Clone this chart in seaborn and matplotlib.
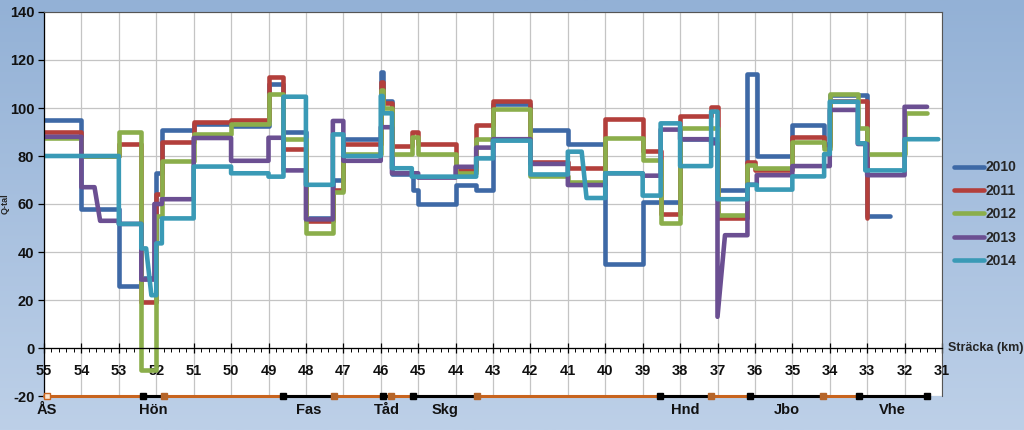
import numpy as np
import pandas as pd
import matplotlib
matplotlib.use("Agg")
import matplotlib.pyplot as plt
import seaborn as sns
from matplotlib.ticker import MultipleLocator
from matplotlib.colors import LinearSegmentedColormap

# %%
# Step segments per year: (km from, km to, Q-tal)
seg_2010 = [(55, 54, 95), (54, 53, 58), (53, 52.4, 26), (52.4, 52, 29), (52, 51.85, 73),
            (51.85, 51, 91), (51, 50, 93.5), (50, 49, 92.5), (49, 48.6, 110), (48.6, 48, 90),
            (48, 47.28, 54), (47.28, 47, 70), (47, 46, 87), (46, 45.95, 115), (45.95, 45.7, 103),
            (45.7, 45.15, 72.5), (45.15, 45, 66), (45, 44, 60), (44, 43.45, 68), (43.45, 43, 66),
            (43, 42, 101.5), (42, 41, 91), (41, 40, 85), (40, 39, 35), (39, 38, 61),
            (38, 37, 87), (37, 36.2, 66), (36.2, 35.95, 114), (35.95, 35, 80), (35, 34.15, 93),
            (34.15, 34, 85), (34, 33, 105.5), (33, 32.4, 55)]
seg_2011 = [(55, 54, 90), (54, 53, 80), (53, 52.4, 85), (52.4, 52, 19), (52, 51.85, 64),
            (51.85, 51, 86), (51, 50, 94), (50, 49, 95), (49, 48.6, 113), (48.6, 48, 83),
            (48, 47.28, 53), (47.28, 47, 66), (47, 46, 85), (46, 45.95, 111), (45.95, 45.7, 102),
            (45.7, 45.17, 84), (45.17, 45, 90), (45, 44, 85), (44, 43.45, 74), (43.45, 43, 93),
            (43, 42, 103), (42, 41, 77.5), (41, 40, 75), (40, 39, 95.5), (39, 38.52, 82),
            (38.52, 38, 56), (38, 37.17, 96.5), (37.17, 37, 100.5), (37, 36.2, 54), (36.2, 36, 77.6),
            (36, 35, 74), (35, 34.15, 88), (34.15, 34, 84), (34, 33, 103), (33, 33, 54)]
seg_2012 = [(55, 54, 87.5), (54, 53, 80), (53, 52.4, 90), (52.4, 52, -9), (52, 51.85, 55),
            (51.85, 51, 78), (51, 50, 89), (50, 49, 93.5), (49, 48.6, 106), (48.6, 48, 87),
            (48, 47.28, 48), (47.28, 47, 65), (47, 46, 81), (46, 45.95, 107.5), (45.95, 45.7, 100),
            (45.7, 45.17, 81), (45.17, 45, 88), (45, 44, 81), (44, 43.45, 73), (43.45, 43, 87),
            (43, 42, 99.5), (42, 41, 71.5), (41, 40, 69.3), (40, 39, 87.5), (39, 38.52, 78.3),
            (38.52, 38, 52), (38, 37, 91.7), (37, 36.2, 55.4), (36.2, 36, 76.3), (36, 35, 75),
            (35, 34.15, 86), (34.15, 34, 83), (34, 33.25, 106), (33.25, 33, 91.7), (33, 32, 80.8),
            (32, 31.4, 98)]
seg_2013 = [(55, 54, 88), (54, 53.65, 67), (53.5, 53, 53), (53, 52.4, 51.7), (52.4, 52.05, 28.5),
            (52.05, 51.85, 60), (51.85, 51, 62), (51, 50, 87.5), (50, 49, 78), (49, 48.6, 87.6),
            (48.6, 48, 74), (48, 47.28, 53.6), (47.28, 47, 94.6), (47, 46, 78), (46, 45.7, 92),
            (45.7, 45, 72.8), (45, 44, 71), (44, 43.45, 75.5), (43.45, 43, 83.5), (43, 42, 87),
            (42, 41, 76.7), (41, 40, 67.9), (40, 39, 72.8), (39, 38.52, 71.8), (38.52, 38, 91),
            (38, 37.17, 87), (37.17, 37, 85.3), (37, 37, 13), (36.8, 36.2, 47), (36.2, 35.95, 68),
            (35.95, 35, 72), (35, 34, 75.8), (34, 33.25, 99.2), (33.25, 33, 85), (33, 32, 72),
            (32, 31.4, 100.5)]
seg_2014 = [(55, 53, 80), (53, 52.4, 51.7), (52.4, 52.27, 41.5), (52.13, 52, 22), (52, 51.85, 43.6),
            (51.85, 51, 54), (51, 50, 75.6), (50, 49, 72.8), (49, 48.6, 71.4), (48.6, 48, 104.7),
            (48, 47.28, 68), (47.28, 47, 89), (47, 46, 80), (46, 45.95, 105), (45.95, 45.7, 97.8),
            (45.7, 45.17, 74.9), (45.17, 43.45, 71.4), (43.45, 43, 79), (43, 42, 86.4), (42, 41, 72.3),
            (41, 40.63, 81.8), (40.5, 40, 62.5), (40, 39, 72.8), (39, 38.52, 63.5), (38.52, 38, 93.6),
            (38, 37.17, 75.8), (37.17, 37, 98.5), (37, 36.2, 62), (36.2, 35.95, 68), (35.95, 35, 66),
            (35, 34.15, 71.5), (34.15, 34, 80.8), (34, 33.25, 102.6), (33.25, 33.05, 85.3),
            (33.05, 32, 74), (32, 31.1, 87)]

years = ['2010', '2011', '2012', '2013', '2014']
year_colors = ['#3E69A6', '#B33F3B', '#8BAE4B', '#6B4F92', '#3A9AB6']

station_names = ['ÅS', 'Hön', 'Fas', 'Tåd', 'Skg', 'Hnd', 'Jbo', 'Vhe']
station_start = [54.93, 52.36, 48.6, 45.95, 45.15, 38.54, 36.13, 33.22]
station_end = [54.93, 51.79, 47.24, 45.73, 43.44, 37.18, 34.18, 31.41]

km_ticks = list(range(55, 30, -1))
q_ticks = list(range(-20, 141, 20))

# %%
# Long table of line vertices
rows = []
for year, segs in zip(years, [seg_2010, seg_2011, seg_2012, seg_2013, seg_2014]):
    for km_a, km_b, q in segs:
        rows.append((year, km_a, q))
        rows.append((year, km_b, q))
qtal_data = pd.DataFrame(rows, columns=['year', 'km', 'q'])

# %%
sns.set_theme(style='white')
plt.rcParams['font.family'] = ['Liberation Sans', 'DejaVu Sans']
plt.rcParams['axes.unicode_minus'] = False

fig = plt.figure(figsize=(10.24, 4.3), dpi=100)

# gradient background
bg_ax = fig.add_axes([0, 0, 1, 1], zorder=-10)
bg_cmap = LinearSegmentedColormap.from_list('bg', ['#93B1D6', '#BDD0E8'])
bg_ax.imshow(np.linspace(0, 1, 256).reshape(-1, 1), aspect='auto', cmap=bg_cmap,
             extent=[0, 1, 0, 1])
bg_ax.axis('off')

ax = fig.add_axes([44 / 1024, 34 / 430, 898 / 1024, 384 / 430])
ax.set_facecolor('white')

sns.lineplot(data=qtal_data, x='km', y='q', hue='year', palette=year_colors,
             sort=False, estimator=None, linewidth=3.3, ax=ax,
             solid_joinstyle='round', solid_capstyle='round')

ax.set_xlim(55, 31)
ax.set_ylim(-20, 140)
ax.set_xticks(km_ticks)
ax.set_yticks(q_ticks)
ax.xaxis.set_minor_locator(MultipleLocator(0.2))
ax.grid(True, which='major', color='#C4C4C4', linewidth=0.9)
ax.set_axisbelow(True)

ax.spines['bottom'].set_position(('data', 0))
ax.spines['bottom'].set_color('black')
ax.spines['bottom'].set_linewidth(0.9)
ax.spines['left'].set_color('black')
ax.spines['left'].set_linewidth(0.9)
for side in ['top', 'right']:
    ax.spines[side].set_color('#555555')
    ax.spines[side].set_linewidth(0.8)

ax.tick_params(axis='x', which='major', bottom=True, direction='inout', length=7,
               width=0.9, color='black', pad=8, labelsize=10.5)
ax.tick_params(axis='x', which='minor', bottom=True, direction='out', length=3,
               width=0.7, color='black')
ax.tick_params(axis='y', which='major', left=True, direction='out', length=4,
               width=0.9, color='black', pad=3, labelsize=10.5)
for lab in ax.get_xticklabels() + ax.get_yticklabels():
    lab.set_fontweight('bold')
    lab.set_color('#111111')

ax.set_xlabel('')
ax.set_ylabel('Q-tal', fontsize=6.5, fontweight='bold')
ax.yaxis.set_label_coords(-0.038, 0.5)
ax.text(30.84, 0, 'Sträcka (km)', fontsize=9, fontweight='bold', ha='left',
        va='center', clip_on=False)

# %%
# station line along the bottom
ax.plot([55, 31.41], [-20, -20], color='#C8641E', linewidth=2.2, clip_on=False, zorder=4)
for name, s0, s1 in zip(station_names, station_start, station_end):
    if s0 == s1:
        ax.plot([s0], [-20], marker='s', markersize=5, color='#FBE3CC',
                markeredgecolor='#C8641E', clip_on=False, zorder=5)
    else:
        ax.plot([s0, s1], [-20, -20], color='black', linewidth=2.2, clip_on=False, zorder=5)
        ax.plot([s0], [-20], marker='s', markersize=5, color='black', clip_on=False, zorder=6)
        end_color = 'black' if name == 'Vhe' else '#B5652A'
        ax.plot([s1], [-20], marker='s', markersize=5, color=end_color, clip_on=False, zorder=6)
    ax.text((s0 + s1) / 2, -26, name, fontsize=10.5, fontweight='bold', ha='center',
            va='center', color='#111111', clip_on=False)

# %%
handles, labels = ax.get_legend_handles_labels()
ax.legend(handles, labels, loc='upper left', bbox_to_anchor=(0.932, 0.627),
          bbox_transform=fig.transFigure, frameon=False, handlelength=2.1,
          handletextpad=0.15, labelspacing=0.68, borderpad=0, borderaxespad=0,
          prop={'weight': 'bold', 'size': 10})

fig.savefig('out.png', dpi=100)
